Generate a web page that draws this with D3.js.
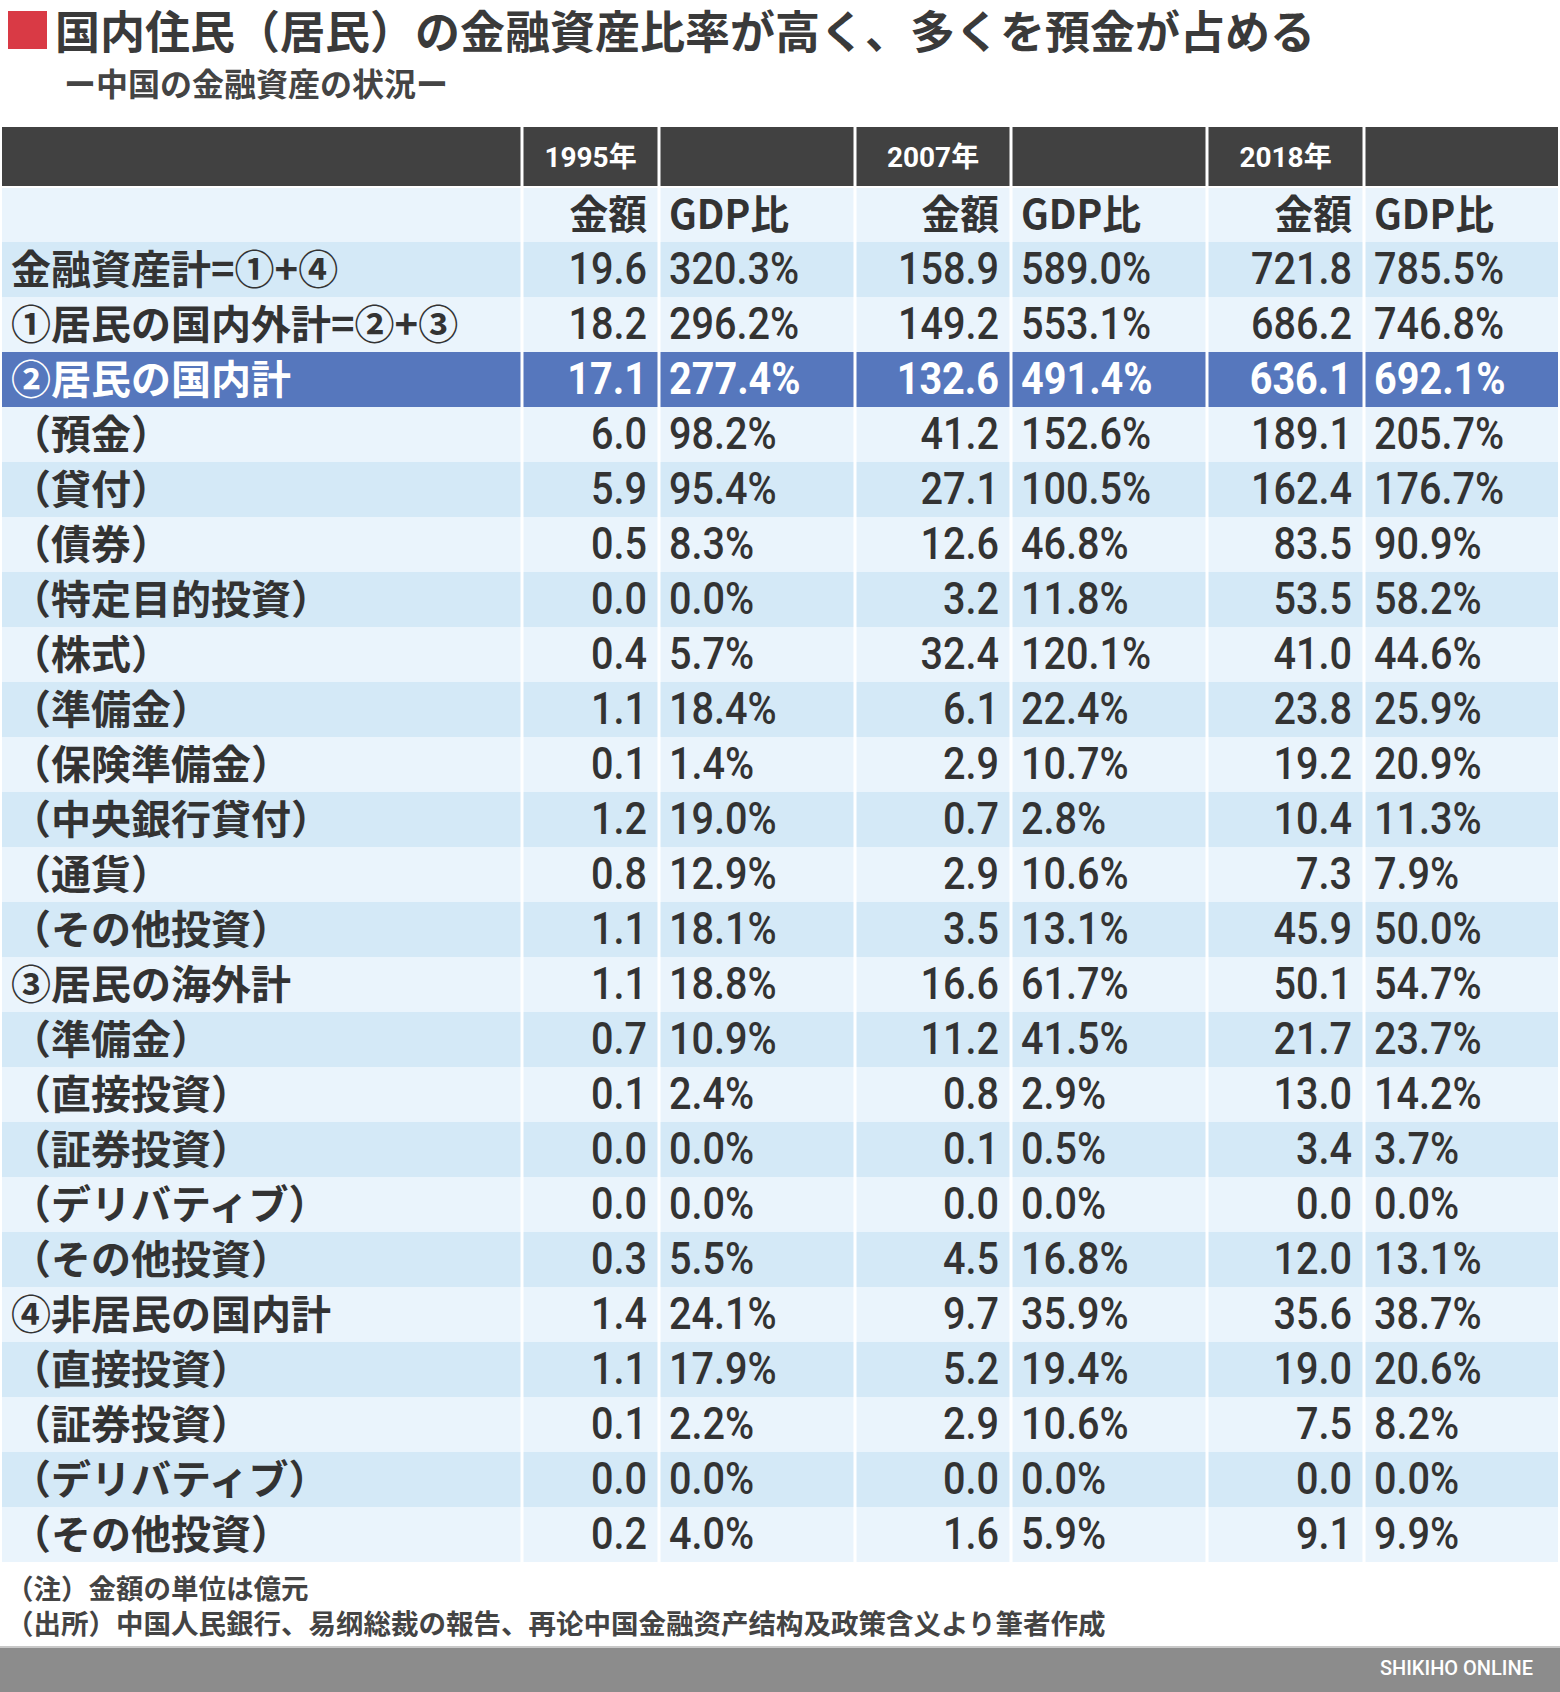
<!DOCTYPE html>
<html>
<head>
<meta charset="utf-8">
<script src="https://cdn.jsdelivr.net/npm/d3@7"></script>
<style>
  body { margin: 0; background: #fff; }
  svg { display: block; }
</style>
</head>
<body>
<svg width="1560" height="1692"></svg>
<script>
const title = "国内住民（居民）の金融資産比率が高く、多くを預金が占める";
const subtitle = "ー中国の金融資産の状況ー";
const years = ["1995年", "2007年", "2018年"];
const subHeads = ["金額", "GDP比"];

const labels = [
  "金融資産計=①+④", "①居民の国内外計=②+③", "②居民の国内計",
  "（預金）", "（貸付）", "（債券）", "（特定目的投資）", "（株式）",
  "（準備金）", "（保険準備金）", "（中央銀行貸付）", "（通貨）", "（その他投資）",
  "③居民の海外計", "（準備金）", "（直接投資）", "（証券投資）", "（デリバティブ）", "（その他投資）",
  "④非居民の国内計", "（直接投資）", "（証券投資）", "（デリバティブ）", "（その他投資）"
];
const amount1995 = [19.6, 18.2, 17.1, 6.0, 5.9, 0.5, 0.0, 0.4, 1.1, 0.1, 1.2, 0.8, 1.1, 1.1, 0.7, 0.1, 0.0, 0.0, 0.3, 1.4, 1.1, 0.1, 0.0, 0.2];
const gdp1995 = [320.3, 296.2, 277.4, 98.2, 95.4, 8.3, 0.0, 5.7, 18.4, 1.4, 19.0, 12.9, 18.1, 18.8, 10.9, 2.4, 0.0, 0.0, 5.5, 24.1, 17.9, 2.2, 0.0, 4.0];
const amount2007 = [158.9, 149.2, 132.6, 41.2, 27.1, 12.6, 3.2, 32.4, 6.1, 2.9, 0.7, 2.9, 3.5, 16.6, 11.2, 0.8, 0.1, 0.0, 4.5, 9.7, 5.2, 2.9, 0.0, 1.6];
const gdp2007 = [589.0, 553.1, 491.4, 152.6, 100.5, 46.8, 11.8, 120.1, 22.4, 10.7, 2.8, 10.6, 13.1, 61.7, 41.5, 2.9, 0.5, 0.0, 16.8, 35.9, 19.4, 10.6, 0.0, 5.9];
const amount2018 = [721.8, 686.2, 636.1, 189.1, 162.4, 83.5, 53.5, 41.0, 23.8, 19.2, 10.4, 7.3, 45.9, 50.1, 21.7, 13.0, 3.4, 0.0, 12.0, 35.6, 19.0, 7.5, 0.0, 9.1];
const gdp2018 = [785.5, 746.8, 692.1, 205.7, 176.7, 90.9, 58.2, 44.6, 25.9, 20.9, 11.3, 7.9, 50.0, 54.7, 23.7, 14.2, 3.7, 0.0, 13.1, 38.7, 20.6, 8.2, 0.0, 9.9];
const highlightRow = 2;
const notes = [
  "（注）金額の単位は億元",
  "（出所）中国人民銀行、易纲総裁の報告、再论中国金融资产结构及政策含义より筆者作成"
];
const credit = "SHIKIHO ONLINE";

const svg = d3.select("svg");
const width = +svg.attr("width");
const height = +svg.attr("height");

const cjk = "'Noto Sans CJK JP', 'Noto Sans', sans-serif";
const num = "Roboto, 'Noto Sans CJK JP', sans-serif";
const ink = "#333333";

// column edges: label | amount | gdp | amount | gdp | amount | gdp
const colEdges = [2, 522, 659, 855, 1011, 1207, 1364, 1558];
const headTop = 127, headH = 60, subH = 55;
const bodyTop = headTop + headH + subH;

const yScale = d3.scaleBand()
  .domain(d3.range(labels.length))
  .range([bodyTop, bodyTop + labels.length * 55]);

const rows = labels.map((label, i) => ({
  label,
  values: [
    amount1995[i].toFixed(1), gdp1995[i].toFixed(1) + "%",
    amount2007[i].toFixed(1), gdp2007[i].toFixed(1) + "%",
    amount2018[i].toFixed(1), gdp2018[i].toFixed(1) + "%"
  ],
  i
}));

const rowFill = (i) => i === highlightRow ? "#5677bd" : (i % 2 === 0 ? "#d4e9f7" : "#eaf4fc");

// title
svg.append("rect")
  .attr("x", 8).attr("y", 11).attr("width", 39).attr("height", 38)
  .attr("fill", "#d93a45");
svg.append("text")
  .attr("x", 55).attr("y", 29)
  .attr("dominant-baseline", "central")
  .attr("font-family", cjk).attr("font-weight", 700).attr("font-size", 45)
  .attr("fill", "#3a3a3a")
  .text(title);
svg.append("text")
  .attr("x", 64).attr("y", 82)
  .attr("dominant-baseline", "central")
  .attr("font-family", cjk).attr("font-weight", 700).attr("font-size", 32)
  .attr("fill", "#444")
  .text(subtitle);

// header
svg.append("rect")
  .attr("x", colEdges[0]).attr("y", headTop)
  .attr("width", colEdges[7] - colEdges[0]).attr("height", headH)
  .attr("fill", "#414141");
svg.append("rect")
  .attr("x", colEdges[0]).attr("y", headTop + headH)
  .attr("width", colEdges[7] - colEdges[0]).attr("height", subH)
  .attr("fill", "#eaf4fc");

svg.selectAll(".year")
  .data(years)
  .join("text")
  .attr("class", "year")
  .attr("transform", (d, k) => `translate(${(colEdges[1 + k * 2] + colEdges[2 + k * 2]) / 2},${headTop + headH / 2})`)
  .attr("text-anchor", "middle")
  .attr("dominant-baseline", "central")
  .attr("font-family", num).attr("font-weight", 700).attr("font-size", 28)
  .attr("fill", "#fff")
  .text((d) => d);

const subG = svg.append("g");
years.forEach((y, k) => {
  subHeads.forEach((s, j) => {
    const c = 1 + k * 2 + j;
    const x = j === 0 ? colEdges[c + 1] - 12 : colEdges[c] + 10;
    subG.append("text")
      .attr("transform", `translate(${x},${headTop + headH + subH / 2 - 3}) scale(0.97,1)`)
      .attr("text-anchor", j === 0 ? "end" : "start")
      .attr("dominant-baseline", "central")
      .attr("font-family", cjk).attr("font-weight", 700).attr("font-size", 40)
      .attr("fill", ink)
      .text(s);
  });
});

// body rows
const rowG = svg.selectAll(".row")
  .data(rows)
  .join("g")
  .attr("class", "row")
  .attr("transform", (d) => `translate(0,${yScale(d.i)})`);

rowG.append("rect")
  .attr("x", colEdges[0])
  .attr("width", colEdges[7] - colEdges[0])
  .attr("height", yScale.bandwidth())
  .attr("fill", (d) => rowFill(d.i));

rowG.append("text")
  .attr("transform", `translate(11,${yScale.bandwidth() / 2 - 3})`)
  .attr("dominant-baseline", "central")
  .attr("font-family", cjk).attr("font-weight", 700).attr("font-size", 40)
  .attr("fill", (d) => d.i === highlightRow ? "#fff" : ink)
  .text((d) => d.label);

rowG.selectAll(".val")
  .data((d) => d.values.map((v, c) => ({ v, c, hl: d.i === highlightRow })))
  .join("text")
  .attr("class", "val")
  .attr("transform", (d) => {
    const x = d.c % 2 === 0 ? colEdges[d.c + 2] - 12 : colEdges[d.c + 1] + 10;
    return `translate(${x},${yScale.bandwidth() / 2 - 1}) scale(0.9,1)`;
  })
  .attr("text-anchor", (d) => d.c % 2 === 0 ? "end" : "start")
  .attr("dominant-baseline", "central")
  .attr("font-family", num)
  .attr("font-weight", (d) => d.hl ? 700 : 500)
  .attr("font-size", 44)
  .attr("fill", (d) => d.hl ? "#fff" : ink)
  .text((d) => d.v);

// grid separators
const tableBottom = yScale.range()[1];
svg.selectAll(".vsep")
  .data(colEdges.slice(1, 7))
  .join("line")
  .attr("class", "vsep")
  .attr("x1", (d) => d).attr("x2", (d) => d)
  .attr("y1", headTop).attr("y2", tableBottom)
  .attr("stroke", "#fff").attr("stroke-width", 3);
svg.append("line")
  .attr("x1", colEdges[0]).attr("x2", colEdges[7])
  .attr("y1", headTop + headH).attr("y2", headTop + headH)
  .attr("stroke", "#fff").attr("stroke-width", 2);

// notes
svg.selectAll(".note")
  .data(notes)
  .join("text")
  .attr("class", "note")
  .attr("x", 6)
  .attr("y", (d, i) => 1587 + i * 35)
  .attr("dominant-baseline", "central")
  .attr("font-family", cjk).attr("font-weight", 700).attr("font-size", 27.5)
  .attr("fill", "#444")
  .text((d) => d);

// footer bar
svg.append("rect")
  .attr("x", 0).attr("y", 1647)
  .attr("width", width).attr("height", height - 1647)
  .attr("fill", "#8c8c8c");
svg.append("line")
  .attr("x1", 0).attr("x2", width)
  .attr("y1", 1647).attr("y2", 1647)
  .attr("stroke", "#c8c8c8").attr("stroke-width", 2);
svg.append("text")
  .attr("transform", `translate(1533,${1668})`)
  .attr("text-anchor", "end")
  .attr("dominant-baseline", "central")
  .attr("font-family", num).attr("font-weight", 500).attr("font-size", 20)
  .attr("fill", "#fff")
  .text(credit);
</script>
</body>
</html>
